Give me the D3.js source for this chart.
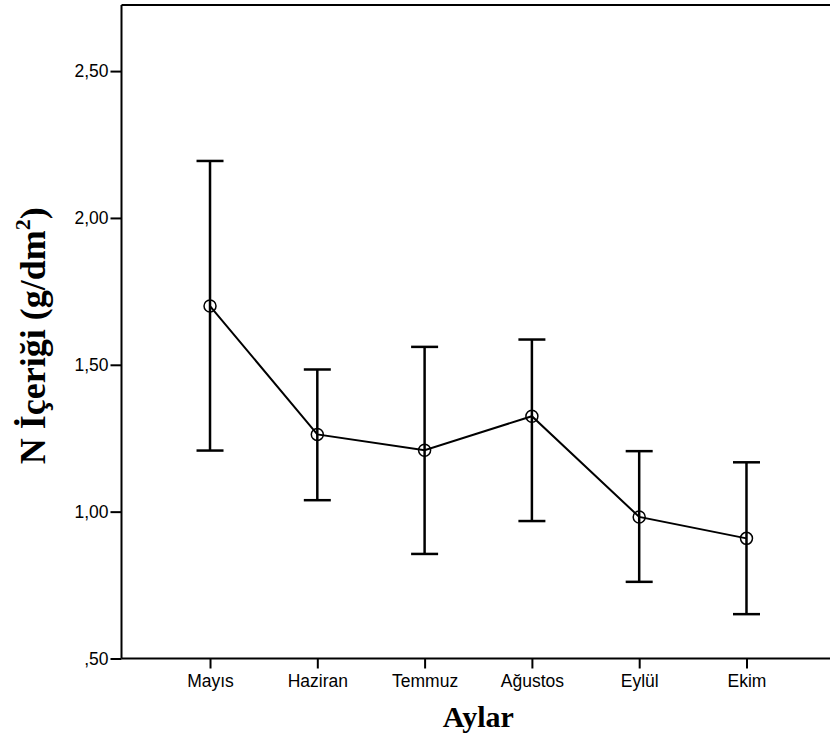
<!DOCTYPE html>
<html>
<head>
<meta charset="utf-8">
<script src="https://cdn.jsdelivr.net/npm/d3@7"></script>
<style>
  html, body { margin: 0; padding: 0; background: #fff; }
  .tick text { font-family: "Liberation Sans", Arial, sans-serif; font-size: 17.5px; fill: #000; }
</style>
</head>
<body>
<div id="chart"></div>
<script>
  // months on the x axis
  const months = ["Mayıs", "Haziran", "Temmuz", "Ağustos", "Eylül", "Ekim"];
  // mean N content and the error bar ends
  const means = [1.70, 1.263, 1.209, 1.325, 0.982, 0.909];
  const upper = [2.194, 1.484, 1.561, 1.586, 1.206, 1.168];
  const lower = [1.208, 1.039, 0.856, 0.968, 0.761, 0.651];
  const yTicks = [0.5, 1.0, 1.5, 2.0, 2.5];
  const yTickLabels = [",50", "1,00", "1,50", "2,00", "2,50"];

  const w = 830;
  const h = 749;
  const plotLeft = 121.5;
  const plotRight = 835;
  const plotTop = 5;
  const plotBottom = 658.5;
  const capHalf = 13.5;
  const markerRadius = 6;

  const data = months.map((m, i) => ({ month: m, mean: means[i], hi: upper[i], lo: lower[i] }));

  const x = d3.scalePoint()
    .domain(months)
    .range([plotLeft, plotRight])
    .padding(0.825);

  const y = d3.scaleLinear()
    .domain([0.5, 2.725])
    .range([plotBottom, plotTop]);

  const svg = d3.select("#chart")
    .append("svg")
    .attr("width", w)
    .attr("height", h);

  // frame top line
  svg.append("line")
    .attr("x1", plotLeft).attr("x2", w)
    .attr("y1", plotTop).attr("y2", plotTop)
    .attr("stroke", "#000").attr("stroke-width", 2);

  //--- axes
  const yAxis = d3.axisLeft(y)
    .tickValues(yTicks)
    .tickSize(11)
    .tickPadding(2)
    .tickFormat((d, i) => yTickLabels[i]);
  const gy = svg.append("g")
    .attr("transform", `translate(${plotLeft},0)`)
    .call(yAxis);
  gy.select(".domain").attr("d", `M0,${plotTop}V${plotBottom}`);

  const xAxis = d3.axisBottom(x).tickSize(10).tickPadding(6);
  const gx = svg.append("g")
    .attr("transform", `translate(0,${plotBottom})`)
    .call(xAxis);
  gx.select(".domain").attr("d", `M${plotLeft},0H${w}`);

  svg.selectAll(".domain").attr("stroke", "#000").attr("stroke-width", 2);
  svg.selectAll(".tick line").attr("stroke", "#000").attr("stroke-width", 2);

  //--- error bars
  const bars = svg.append("g").attr("class", "errorbars");
  bars.selectAll(".stem")
    .data(data).enter()
    .append("line")
    .attr("x1", d => x(d.month)).attr("x2", d => x(d.month))
    .attr("y1", d => y(d.hi)).attr("y2", d => y(d.lo))
    .attr("stroke", "#000").attr("stroke-width", 2.5);
  ["hi", "lo"].forEach(function(k) {
    bars.selectAll(".cap-" + k)
      .data(data).enter()
      .append("line")
      .attr("x1", d => x(d.month) - capHalf).attr("x2", d => x(d.month) + capHalf)
      .attr("y1", d => y(d[k])).attr("y2", d => y(d[k]))
      .attr("stroke", "#000").attr("stroke-width", 2.5);
  });

  //--- mean line and markers
  const line = d3.line()
    .x(d => x(d.month))
    .y(d => y(d.mean));
  svg.append("path")
    .datum(data)
    .attr("d", line)
    .attr("fill", "none")
    .attr("stroke", "#000")
    .attr("stroke-width", 2);

  svg.selectAll(".marker")
    .data(data).enter()
    .append("circle")
    .attr("cx", d => x(d.month))
    .attr("cy", d => y(d.mean))
    .attr("r", markerRadius)
    .attr("fill", "none")
    .attr("stroke", "#000")
    .attr("stroke-width", 1.5);

  //--- axis titles
  svg.append("text")
    .attr("x", (plotLeft + plotRight) / 2)
    .attr("y", 727)
    .attr("text-anchor", "middle")
    .style("font-family", "'Liberation Serif', 'Times New Roman', serif")
    .style("font-weight", "bold")
    .style("font-size", "30px")
    .text("Aylar");

  const yTitle = svg.append("text")
    .attr("transform", `translate(45,${(plotTop + plotBottom) / 2 + 4}) rotate(-90)`)
    .attr("text-anchor", "middle")
    .style("font-family", "'Liberation Serif', 'Times New Roman', serif")
    .style("font-weight", "bold")
    .style("font-size", "36px");
  yTitle.append("tspan").text("N İçeriği (g/dm");
  yTitle.append("tspan").attr("dy", -15).style("font-size", "22px").text("2");
  yTitle.append("tspan").attr("dy", 15).text(")");
</script>
</body>
</html>
